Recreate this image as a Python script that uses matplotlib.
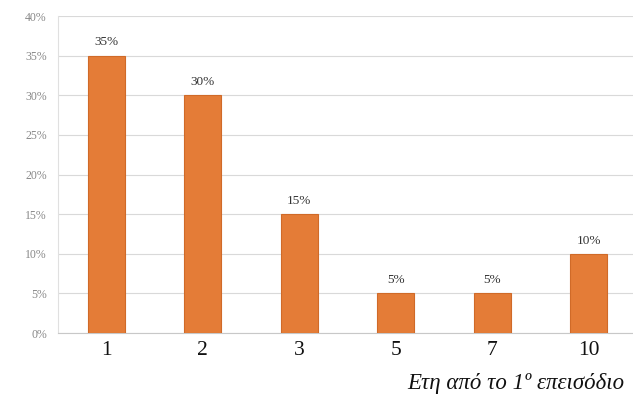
import matplotlib.pyplot as plt

years = ['1', '2', '3', '5', '7', '10']
percent = [35, 30, 15, 5, 5, 10]
y_ticks = [0, 5, 10, 15, 20, 25, 30, 35, 40]

fig = plt.figure(figsize=(6.33, 4.07), dpi=100)
ax = fig.add_axes([58 / 633, 1 - 333 / 407, 577 / 633, 317 / 407])

bars = ax.bar(range(len(years)), percent, width=0.38, color='#E47C37', edgecolor='#D06A28', linewidth=0.8, zorder=3)
for i, v in enumerate(percent):
    ax.text(i, v + 0.9, f'{v}%', ha='center', va='bottom', fontsize=9.5,
            family='Liberation Serif', color='#333333')

ax.set_xlim(-0.5, len(years) - 0.5 - 0.02)
ax.set_ylim(0, 40)
ax.set_yticks(y_ticks)
ax.set_yticklabels([f'{t}%' for t in y_ticks], fontsize=8.5, color='#888888', family='Liberation Serif')
ax.set_xticks(range(len(years)))
ax.set_xticklabels(years, fontsize=15.5, family='Liberation Serif', color='#111111')
ax.tick_params(axis='x', length=0, pad=6)
ax.tick_params(axis='y', length=0, pad=8)
ax.yaxis.grid(True, color='#D9D9D9', linewidth=0.8, zorder=0)

for s in ['top', 'right']:
    ax.spines[s].set_visible(False)
ax.spines['left'].set_color('#E0E0E0')
ax.spines['bottom'].set_color('#C8C8C8')

fig.text(624 / 633, 1 - 383 / 407, 'Ετη από το 1º επεισόδιο', ha='right', va='center',
         fontsize=16.5, style='italic', family='Liberation Serif', color='#111111')

fig.savefig('out.png', dpi=100)
